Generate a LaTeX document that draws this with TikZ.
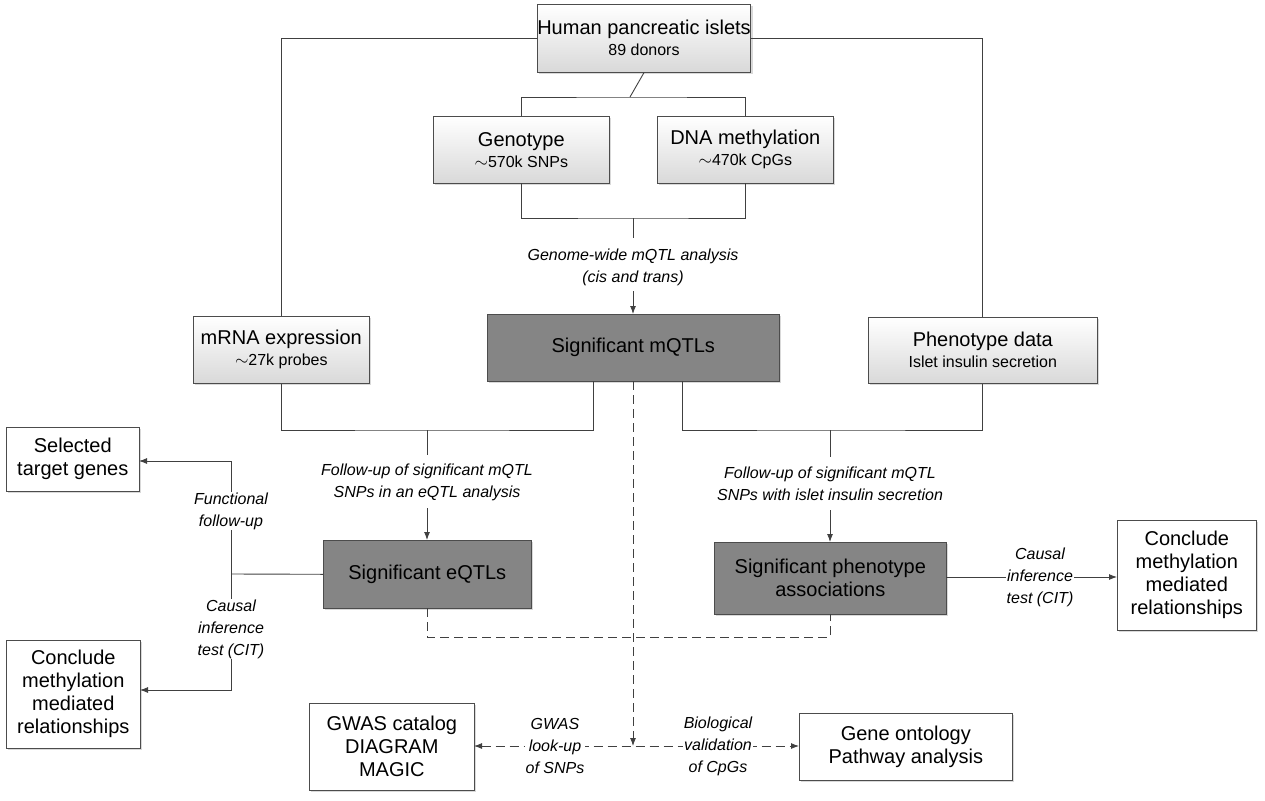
\documentclass[tikz,border=0pt]{standalone}
\usepackage{fontspec}
\setmainfont{Liberation Sans}
\usetikzlibrary{arrows.meta,shadows}
\newcommand\smf{\fontsize{16}{19}\selectfont}
\begin{document}
\begin{tikzpicture}[x=1pt,y=-1pt,
  bx/.style={draw=black!70,line width=0.6pt,align=center,inner sep=0pt,anchor=north west,font=\fontsize{20}{23}\selectfont,drop shadow={shadow xshift=2pt,shadow yshift=-2pt,opacity=0.3}},
  lt/.style={bx,top color=white,bottom color=black!15},
  dk/.style={bx,fill=black!48},
  wh/.style={bx,fill=white},
  lab/.style={font=\itshape\fontsize{16}{22}\selectfont,align=center,fill=white,inner sep=1pt},
  ln/.style={draw=black!75,line width=0.9pt},
  ar/.style={ln,-{Latex[length=8pt,width=6pt]}},
  da/.style={ln,dash pattern=on 9pt off 5pt}]
\useasboundingbox (0,0) rectangle (1265,800);
\node[lt,minimum width=185,minimum height=68] (h) at (537,4) {Human pancreatic islets\\[-2pt]{\smf 89 donors}};
\node[lt,minimum width=176,minimum height=67] (g) at (433,116) {Genotype\\[-2pt]{\smf $\sim$570k SNPs}};
\node[lt,minimum width=176,minimum height=67] (d) at (657,116) {DNA methylation\\[-2pt]{\smf $\sim$470k CpGs}};
\node[lt,minimum width=176,minimum height=67] (m) at (193,316) {mRNA expression\\[-2pt]{\smf $\sim$27k probes}};
\node[dk,minimum width=292,minimum height=67] (q) at (487,314) {Significant mQTLs};
\node[lt,minimum width=229,minimum height=66] (p) at (868,317) {Phenotype data\\[-2pt]{\smf Islet insulin secretion}};
\node[wh,minimum width=133,minimum height=64] (s) at (6,427) {Selected\\target genes};
\node[dk,minimum width=208,minimum height=68] (e) at (323,540) {Significant eQTLs};
\node[dk,minimum width=232,minimum height=72] (pa) at (714,542) {Significant phenotype\\associations};
\node[wh,minimum width=139,minimum height=110] (cr) at (1117,520) {Conclude\\methylation\\mediated\\relationships};
\node[wh,minimum width=134,minimum height=108] (cl) at (6,640) {Conclude\\methylation\\mediated\\relationships};
\node[wh,minimum width=165,minimum height=87] (gw) at (309,703) {GWAS catalog\\DIAGRAM\\MAGIC};
\node[wh,minimum width=213,minimum height=67] (go) at (799,713) {Gene ontology\\Pathway analysis};
% top branches
\draw[ln] (h.west) -| (m.north);
\draw[ln] (h.east) -| (p.north);
\coordinate (j1) at (630,97);
\draw[ln] (h.south) -- (j1);
\draw[ln] (g.north) |- (j1) -| (d.north);
\coordinate (j2) at (633,218);
\draw[ln] (521,183) |- (j2) -| (745,183);
\draw[ln] (j2) -- (633,238);
\node[lab] (l1) at (633,267) {Genome-wide mQTL analysis\\(cis and trans)};
\draw[ar] (633,291) -- (633,314);
% eQTL branch
\coordinate (j3) at (427,430);
\draw[ln] (m.south) |- (j3) -| (593,381);
\draw[ln] (j3) -- (427,455);
\node[lab] (l2) at (427,482) {Follow-up of significant mQTL\\SNPs in an eQTL analysis};
\draw[ar] (427,508) -- (427,540);
% phenotype branch
\coordinate (j4) at (830,430);
\draw[ln] (682,381) |- (j4) -| (p.south);
\draw[ln] (j4) -- (830,457);
\node[lab] (l3) at (830,484) {Follow-up of significant mQTL\\SNPs with islet insulin secretion};
\draw[ar] (830,510) -- (830,542);
% left branch
\coordinate (j5) at (231,574);
\draw[ln] (e.west) -- (j5);
\draw[ar] (j5) -- (231,461) -- (139,461);
\draw[ar] (j5) -- (231,690) -- (140,690);
\node[lab] (l4) at (231,511) {Functional\\follow-up};
\node[lab] (l5) at (231,629) {Causal\\inference\\test (CIT)};
% right
\draw[ar] (946,577) -- (1117,577);
\node[lab] (l6) at (1040,577) {Causal\\inference\\test (CIT)};
% dashed
\draw[da] (427,608) |- (830,637) -- (830,614);
\coordinate (j6) at (633,746);
\draw[da,-{Latex[length=8pt,width=6pt]}] (633,381) -- (j6);
\draw[da,{Latex[length=8pt,width=6pt]}-{Latex[length=8pt,width=6pt]}] (474,746) -- (799,746);
\node[lab] (l7) at (555,746) {GWAS\\look-up\\of SNPs};
\node[lab] (l8) at (718,746) {Biological\\validation\\of CpGs};
\end{tikzpicture}
\end{document}
